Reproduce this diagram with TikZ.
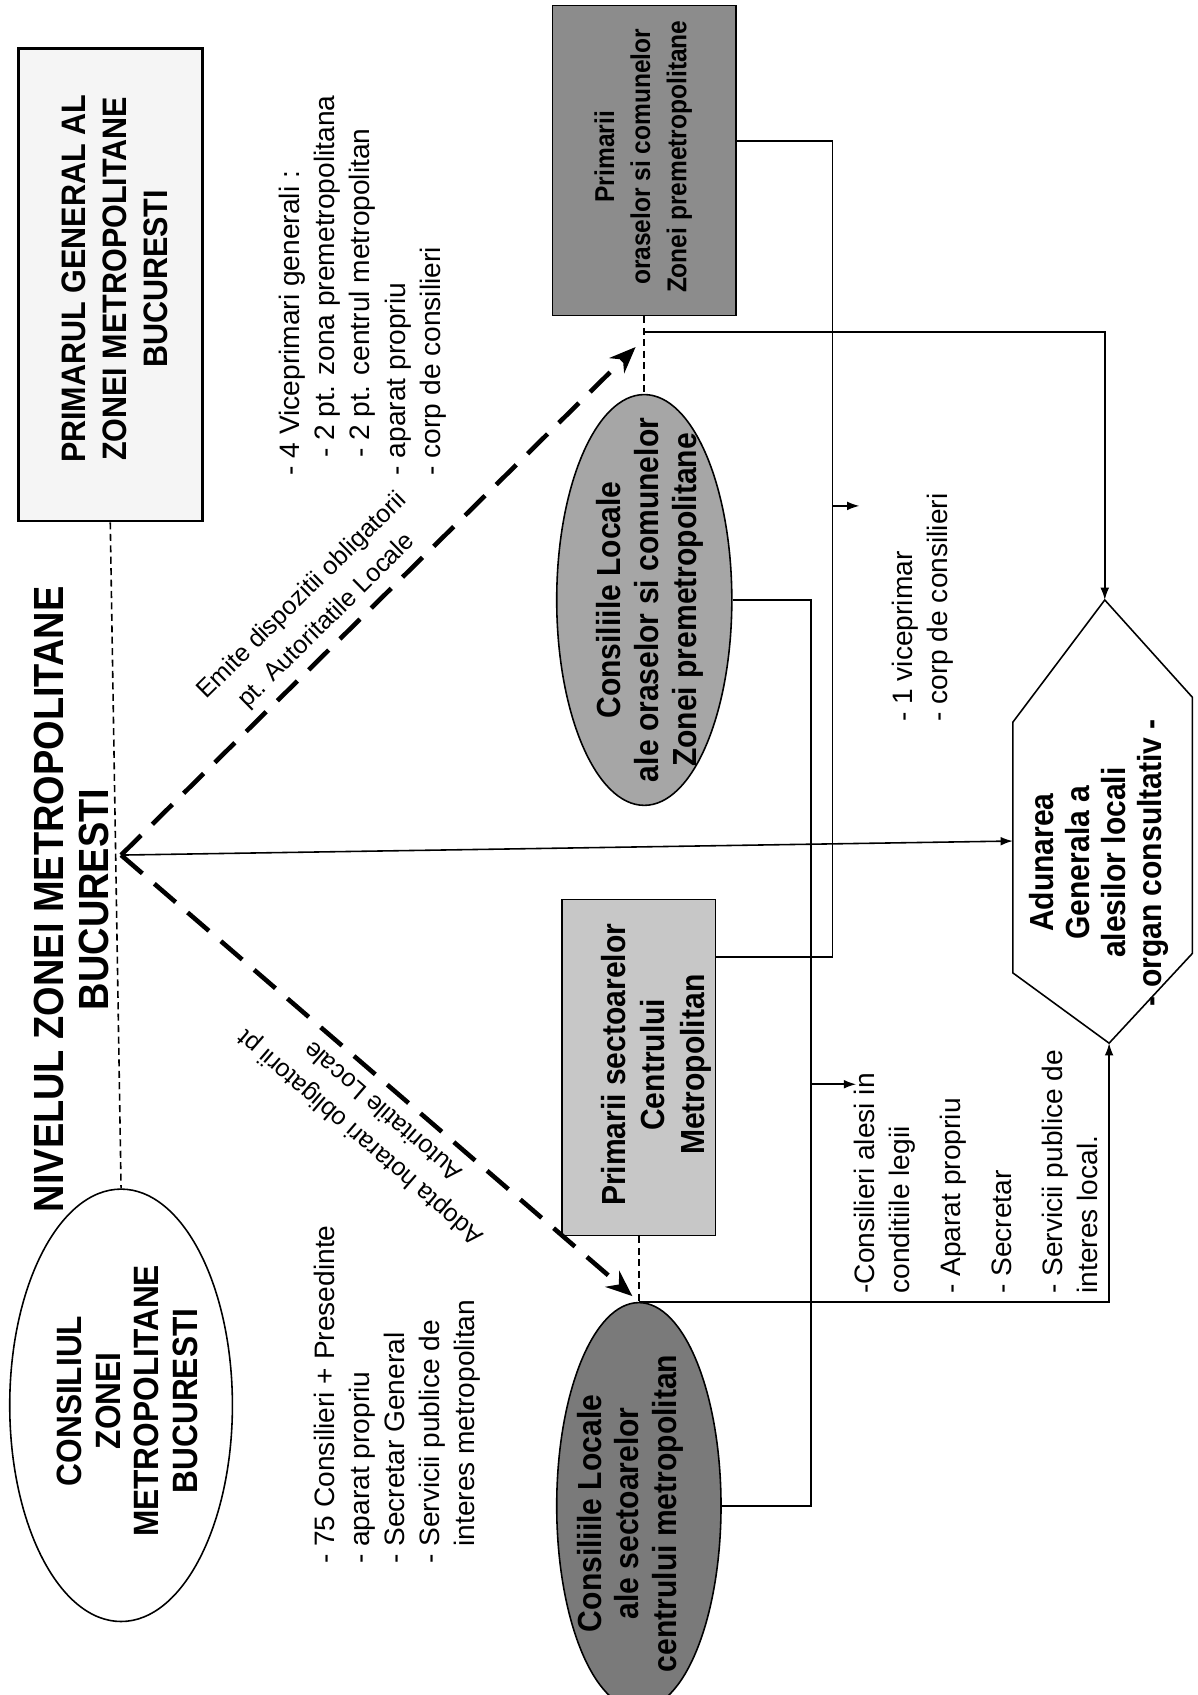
\documentclass[tikz,border=0pt]{standalone}
\usepackage{fontspec}
\setmainfont{Liberation Sans}[BoldFeatures={FakeStretch=0.9}]
\usetikzlibrary{arrows.meta}
\usetikzlibrary{shapes.geometric}

\newcommand{\unitlen}{0.615pt}
\newcommand{\fsz}[2]{\fontsize{#1}{#2}\selectfont}

\tikzset{
	thinline/.style={line width=0.9pt},
	thinarrow/.style={line width=0.9pt, -{Latex[length=7pt, width=5pt]}},
	thindash/.style={line width=0.9pt, dash pattern=on 4pt off 2.5pt},
	bigdash/.style={line width=2.6pt, dash pattern=on 16pt off 9pt, -{Stealth[length=15pt, width=12pt]}},
	shapebox/.style={draw, line width=0.9pt, inner sep=0pt},
	boxtext/.style={rotate=90, align=center, inner sep=0pt},
	listtext/.style={rotate=90, align=left, anchor=north west, inner sep=0pt, font=\fsz{16}{20}},
}

\begin{document}
\begin{tikzpicture}[x=0.615pt, y=-0.615pt]
	\useasboundingbox (0,0) rectangle (1108,1568);

	% left column: general mayor, title, metropolitan council
	\node[shapebox, line width=1.6pt, fill=black!4, minimum width=170*\unitlen, minimum height=437*\unitlen] (pgen) at (102,263.5) {};
	\node[boxtext, font=\bfseries\fsz{19.3}{23.3}] (pgentext) at (106,258) {PRIMARUL GENERAL AL\\ZONEI METROPOLITANE\\BUCURESTI};
	\node[boxtext, font=\bfseries\fsz{24}{26}] (title) at (66,832) {NIVELUL ZONEI METROPOLITANE\\BUCURESTI};
	\node[shapebox, ellipse, fill=white, minimum width=206*\unitlen, minimum height=400*\unitlen] (cons) at (112,1300) {};
	\node[boxtext, font=\bfseries\fsz{20}{22}] (constext) at (118,1296) {CONSILIUL\\ZONEI\\METROPOLITANE\\BUCURESTI};
	\draw[thindash] (pgen.south) -- (cons.north);

	% lists of the metropolitan level
	\node[listtext] (vicelist) at (258,440) {- 4 Viceprimari generali :\\\hspace*{10pt}- 2 pt. zona premetropolitana\\\hspace*{10pt}- 2 pt. centrul metropolitan\\- aparat propriu\\- corp de consilieri};
	\node[listtext] (counlist) at (290,1447) {- 75 Consilieri + Presedinte\\- aparat propriu\\- Secretar General\\- Servicii publice de\\\phantom{- }interes metropolitan};

	% middle column: local mayors and councils
	\node[shapebox, fill=black!45, minimum width=170*\unitlen, minimum height=287*\unitlen] (pbox) at (596,148.5) {};
	\node[boxtext, font=\bfseries\fsz{15.5}{20.5}] (pboxtext) at (595,145) {Primarii\\oraselor si comunelor\\Zonei premetropolitane};
	\node[shapebox, ellipse, fill=black!35, minimum width=162*\unitlen, minimum height=380*\unitlen] (upell) at (596,555) {};
	\node[boxtext, font=\bfseries\fsz{19}{21.5}] (upelltext) at (601,555) {Consiliile Locale\\ale oraselor si comunelor\\Zonei premetropolitane};
	\node[shapebox, fill=black!22, minimum width=142*\unitlen, minimum height=311*\unitlen] (mbox) at (591,987.5) {};
	\node[boxtext, font=\bfseries\fsz{19}{22.4}] (mboxtext) at (607,985) {Primarii sectoarelor\\Centrului\\Metropolitan};
	\node[shapebox, ellipse, fill=black!52, minimum width=152*\unitlen, minimum height=376*\unitlen] (lowell) at (591,1393) {};
	\node[boxtext, font=\bfseries\fsz{19}{21.5}] (lowelltext) at (583,1400) {Consiliile Locale\\ale sectoarelor\\centrului metropolitan};
	\draw[thindash] (pbox.south) -- (upell.north);
	\draw[thindash] (mbox.south) -- (lowell.north);

	% dashed arrows from the metropolitan level
	\coordinate (apex) at (112,791);
	\coordinate (ttop) at (588,321);
	\coordinate (tbot) at (585,1199);
	\draw[bigdash] (apex) -- (ttop);
	\draw[bigdash] (apex) -- (tbot);
	\node[rotate=44.6, align=center, font=\fsz{14.3}{20}] (emite) at (291,563) {Emite dispozitii obligatorii\\pt. Autoritatile Locale};
	\node[rotate=139.2, align=center, font=\fsz{14.3}{20}] (adopta) at (343,1041) {Adopta hotarari obligatorii pt\\Autoritatile Locale};

	% general assembly
	\coordinate (hxt) at (1022,555);
	\coordinate (hxur) at (1103,645);
	\coordinate (hxlr) at (1103,882);
	\coordinate (hxb) at (1026,965);
	\coordinate (hxll) at (937,900);
	\coordinate (hxul) at (937,668);
	\coordinate (hxw) at (937,778);
	\draw[thinline] (hxt) -- (hxur) -- (hxlr) -- (hxb) -- (hxll) -- (hxul) -- cycle;
	\node[boxtext, font=\bfseries\fsz{19}{20.5}] (adunare) at (1017,798) {Adunarea\\Generala a\\alesilor locali\\- organ consultativ -};

	% connectors
	\coordinate (j1) at (596,307);
	\coordinate (pline) at (770,0);
	\coordinate (cline) at (750,0);
	\draw[thinarrow] (apex) -- (hxw);
	\draw[thinarrow] (j1) -| (hxt);
	\draw[thinarrow] (lowell.north) -| (hxb);
	\draw[thinline] (pbox.12) -| (pline |- mbox.55) -- (mbox.55);
	\draw[thinline] (upell.east) -| (cline |- lowell.east) -- (lowell.east);
	\coordinate (vicetip) at (795,468);
	\coordinate (constip) at (792,1003);
	\draw[thinarrow] (pline |- vicetip) -- (vicetip);
	\draw[thinarrow] (cline |- constip) -- (constip);

	% lists of the local level
	\node[listtext] (locvice) at (825,668) {- 1 viceprimar\\- corp de consilieri};
	\node[listtext] (loccons) at (790,1197) {-Consilieri alesi in\\conditiile legii\\[9pt]- Aparat propriu\\[9pt]- Secretar\\[9pt]- Servicii publice de\\interes local.};
\end{tikzpicture}
\end{document}
